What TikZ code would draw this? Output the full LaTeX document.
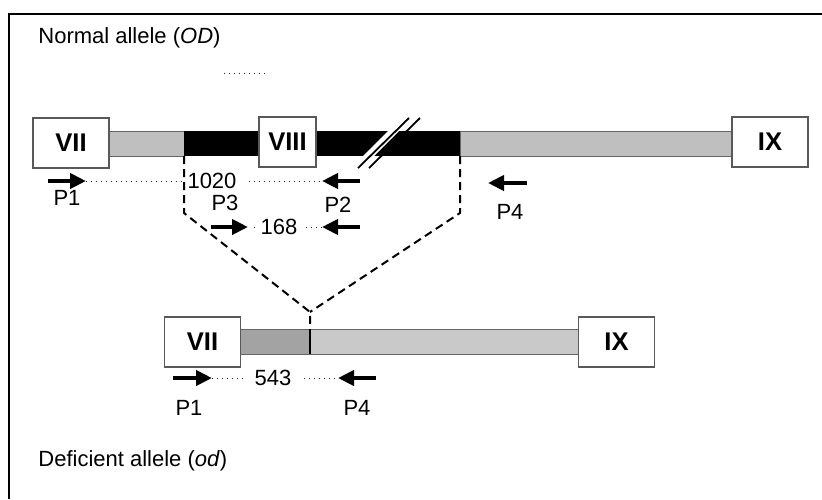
\documentclass[tikz,border=0pt]{standalone}
\usepackage{fontspec}
\setmainfont{Liberation Sans}
\usetikzlibrary{arrows.meta, positioning, calc}

\begin{document}
\begin{tikzpicture}[
    x=0.5pt, y=-0.5pt,
    font=\fontsize{11}{13}\selectfont,
    exon/.style={draw=black!65, fill=white, line width=0.6pt, minimum width=38pt,
        minimum height=25pt, inner sep=0pt, font=\fontsize{12.8}{14}\selectfont\bfseries},
    intron/.style={draw=black!60, line width=0.5pt},
    primer/.style={line width=2pt, -{Triangle[length=8pt,width=7.5pt]}},
    amplicon/.style={dotted, line width=0.5pt, black!85},
    splice/.style={line width=1pt, dash pattern=on 4pt off 2.5pt},
    lbl/.style={inner sep=1pt}
]

    \useasboundingbox (0,0) rectangle (822,499);

    % Frame (only top and left edges show)
    \draw[line width=0.8pt] (822,14) -- (9,14) -- (9,499);

    % Titles
    \node[lbl, anchor=west] (normal) at (36,38) {Normal allele (\textit{OD})};
    \node[lbl, anchor=west] (deficient) at (36,461) {Deficient allele (\textit{od})};
    \draw[amplicon] (224,73) -- (265,73);

    % Normal allele: introns and exons
    \def\yT{131}
    \def\yB{156}
    \filldraw[intron, fill=black!25] (109,\yT) rectangle (184,\yB);
    \fill (184,\yT) rectangle (460,\yB);
    \filldraw[intron, fill=black!25] (460,\yT) rectangle (733,\yB);

    % Break marks in the black intron
    \fill[white] (363,\yB) -- (374,\yB) -- (399,\yT) -- (388,\yT) -- cycle;
    \draw[line width=0.9pt] (358,168) -- (409,118);
    \draw[line width=0.9pt] (369,168) -- (420,118);

    \node[exon] (vii) at (71,143) {VII};
    \node[exon, minimum width=28.5pt] (viii) at (287.5,142) {VIII};
    \node[exon] (ix) at (770,142) {IX};

    % Primers on the normal allele
    \coordinate (p1s) at (48,181);  \coordinate (p1t) at (86,181);
    \coordinate (p2s) at (360,181); \coordinate (p2t) at (322,181);
    \coordinate (p3s) at (211,227); \coordinate (p3t) at (248,227);
    \coordinate (p5s) at (360,227); \coordinate (p5t) at (322,227);
    \coordinate (p4s) at (527,183); \coordinate (p4t) at (488,183);
    \draw[primer] (p1s) -- (p1t);
    \draw[primer] (p2s) -- (p2t);
    \draw[primer] (p3s) -- (p3t);
    \draw[primer] (p5s) -- (p5t);
    \draw[primer] (p4s) -- (p4t);

    \node[lbl] (s1020) at (212,181) {1020};
    \node[lbl] (s168) at (279,227) {168};
    \draw[amplicon] (p1t) -- (s1020.west);
    \draw[amplicon, shorten <=5pt] (s1020.east) -- (p2t);
    \draw[amplicon, shorten <=3pt] (p3t) -- (s168.west);
    \draw[amplicon, shorten <=3pt] (s168.east) -- (p5t);

    \node[lbl] (lp1) at (67,198) {P1};
    \node[lbl] (lp3) at (225,203) {P3};
    \node[lbl] (lp2) at (338,205) {P2};
    \node[lbl] (lp4) at (510,212) {P4};

    % Deletion
    \coordinate (dl) at (184,\yB);
    \coordinate (dr) at (460,\yB);
    \coordinate (jn) at (310,326);
    \draw[splice] (dl) -- ++(0,57) -- ($(jn)+(0,-14)$) -- (jn);
    \draw[splice] (dr) -- ++(0,57) -- ($(jn)+(0,-14)$);

    % Deficient allele: introns and exons
    \def\yt{329}
    \def\yb{354}
    \filldraw[intron, fill=black!36] (240,\yt) rectangle (310,\yb);
    \filldraw[intron, fill=black!21] (310,\yt) rectangle (579,\yb);
    \draw[line width=0.6pt] (310,\yt) -- (310,\yb);

    \node[exon] (vii2) at (202.5,342) {VII};
    \node[exon] (ix2) at (616.5,342) {IX};

    % Primers on the deficient allele
    \coordinate (q1s) at (173,378); \coordinate (q1t) at (212,378);
    \coordinate (q4s) at (376,378); \coordinate (q4t) at (338,378);
    \draw[primer] (q1s) -- (q1t);
    \draw[primer] (q4s) -- (q4t);

    \node[lbl] (s543) at (273,378) {543};
    \draw[amplicon, shorten >=5pt] (q1t) -- (s543.west);
    \draw[amplicon, shorten <=5pt] (s543.east) -- (q4t);

    \node[lbl] (lq1) at (189,408) {P1};
    \node[lbl] (lq4) at (357,408) {P4};

\end{tikzpicture}
\end{document}
